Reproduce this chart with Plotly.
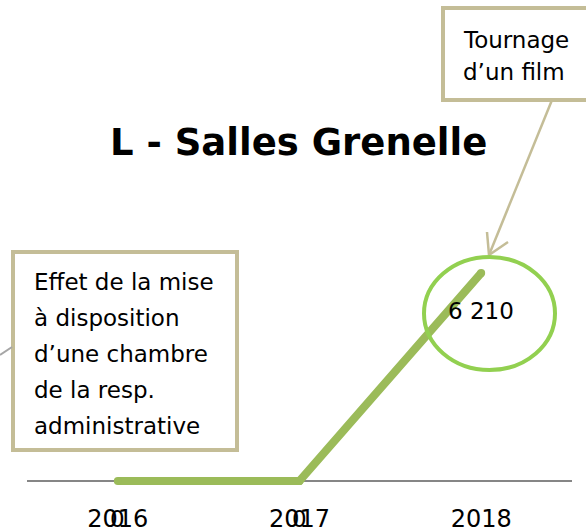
import plotly.graph_objects as go

# ---- data ----
years = ["2016", "2017", "2018"]
visitors = [0, 0, 6210]
title_text = "L - Salles Grenelle"
note_left = ["Effet de la mise", "à disposition", "d’une chambre", "de la resp.", "administrative"]
note_right = ["Tournage", "d’un film"]

W, H = 586, 529
FONT = "DejaVu Sans, sans-serif"
GREEN = "#9BBB59"
BRIGHT = "#92D050"
KHAKI = "#C4BD97"


def px(x):
    return x / W


def py(y):
    return 1 - y / H


def fmt(v):
    return f"{v:,}".replace(",", " ")


fig = go.Figure()
fig.add_trace(go.Scatter(
    x=years, y=visitors, mode="lines+markers",
    line=dict(color=GREEN, width=8),
    marker=dict(color=GREEN, size=8),
    hoverinfo="skip", showlegend=False,
))

annotations = []
# data labels (placed below each point); x given as category index
for i, v in enumerate(visitors):
    annotations.append(dict(x=i, y=v, xref="x", yref="y", text=fmt(v),
                            showarrow=False, yshift=-38,
                            font=dict(family=FONT, size=23, color="#000000")))

# title
annotations.append(dict(x=px(298), y=py(142), xref="paper", yref="paper",
                        text="<b>" + title_text + "</b>", showarrow=False,
                        xanchor="center", yanchor="middle",
                        font=dict(family=FONT, size=37, color="#000000")))

# left callout text
for i, line in enumerate(note_left):
    annotations.append(dict(x=px(32), y=py(282 + 36 * i), xref="paper", yref="paper",
                            text=line, showarrow=False, xanchor="left", yanchor="middle",
                            font=dict(family=FONT, size=23, color="#000000")))
# right callout text
for i, line in enumerate(note_right):
    annotations.append(dict(x=px(461), y=py(40 + 32.5 * i), xref="paper", yref="paper",
                            text=line, showarrow=False, xanchor="left", yanchor="middle",
                            font=dict(family=FONT, size=23, color="#000000")))

shapes = [
    # left callout box
    dict(type="rect", xref="paper", yref="paper", x0=px(13), x1=px(237), y0=py(252), y1=py(450),
         line=dict(color=KHAKI, width=4), fillcolor="white", layer="below"),
    # connector off to the left
    dict(type="line", xref="paper", yref="paper", x0=px(0), y0=py(355), x1=px(12), y1=py(347),
         line=dict(color="#A6A6A6", width=2)),
    # right callout box
    dict(type="rect", xref="paper", yref="paper", x0=px(443), x1=px(600), y0=py(8), y1=py(100),
         line=dict(color=KHAKI, width=4), fillcolor="white", layer="below"),
    # arrow from right callout
    dict(type="line", xref="paper", yref="paper", x0=px(552), y0=py(100), x1=px(489), y1=py(255),
         line=dict(color=KHAKI, width=2.5)),
    dict(type="line", xref="paper", yref="paper", x0=px(487), y0=py(232), x1=px(489), y1=py(255),
         line=dict(color=KHAKI, width=2.5)),
    dict(type="line", xref="paper", yref="paper", x0=px(508), y0=py(242), x1=px(489), y1=py(255),
         line=dict(color=KHAKI, width=2.5)),
    # highlight ellipse
    dict(type="circle", xref="paper", yref="paper", x0=px(424), x1=px(555), y0=py(257), y1=py(370),
         line=dict(color=BRIGHT, width=4), layer="above"),
]

fig.update_layout(
    template="none",
    width=W, height=H,
    margin=dict(l=0, r=0, t=0, b=0, autoexpand=False),
    paper_bgcolor="white", plot_bgcolor="rgba(0,0,0,0)",
    showlegend=False,
    annotations=annotations,
    shapes=shapes,
    xaxis=dict(domain=[px(27), px(572)], range=[-0.5, 2.5], type="category",
               anchor="free", position=py(502), showline=False, showgrid=False,
               automargin=False,
               zeroline=False, ticks="", tickfont=dict(family=FONT, size=24, color="#000000")),
    yaxis=dict(domain=[py(515), py(170)], range=[-1015, 9285], showgrid=False,
               automargin=False,
               zeroline=True, zerolinecolor="#868686", zerolinewidth=2,
               showticklabels=False, showline=False, ticks=""),
)

fig.write_html(
    "out.html",
    config={"displayModeBar": False},
    post_script=(
        "document.body.style.margin='0';"
        "document.body.style.overflow='hidden';"
        "document.documentElement.style.overflow='hidden';"
    ),
)
